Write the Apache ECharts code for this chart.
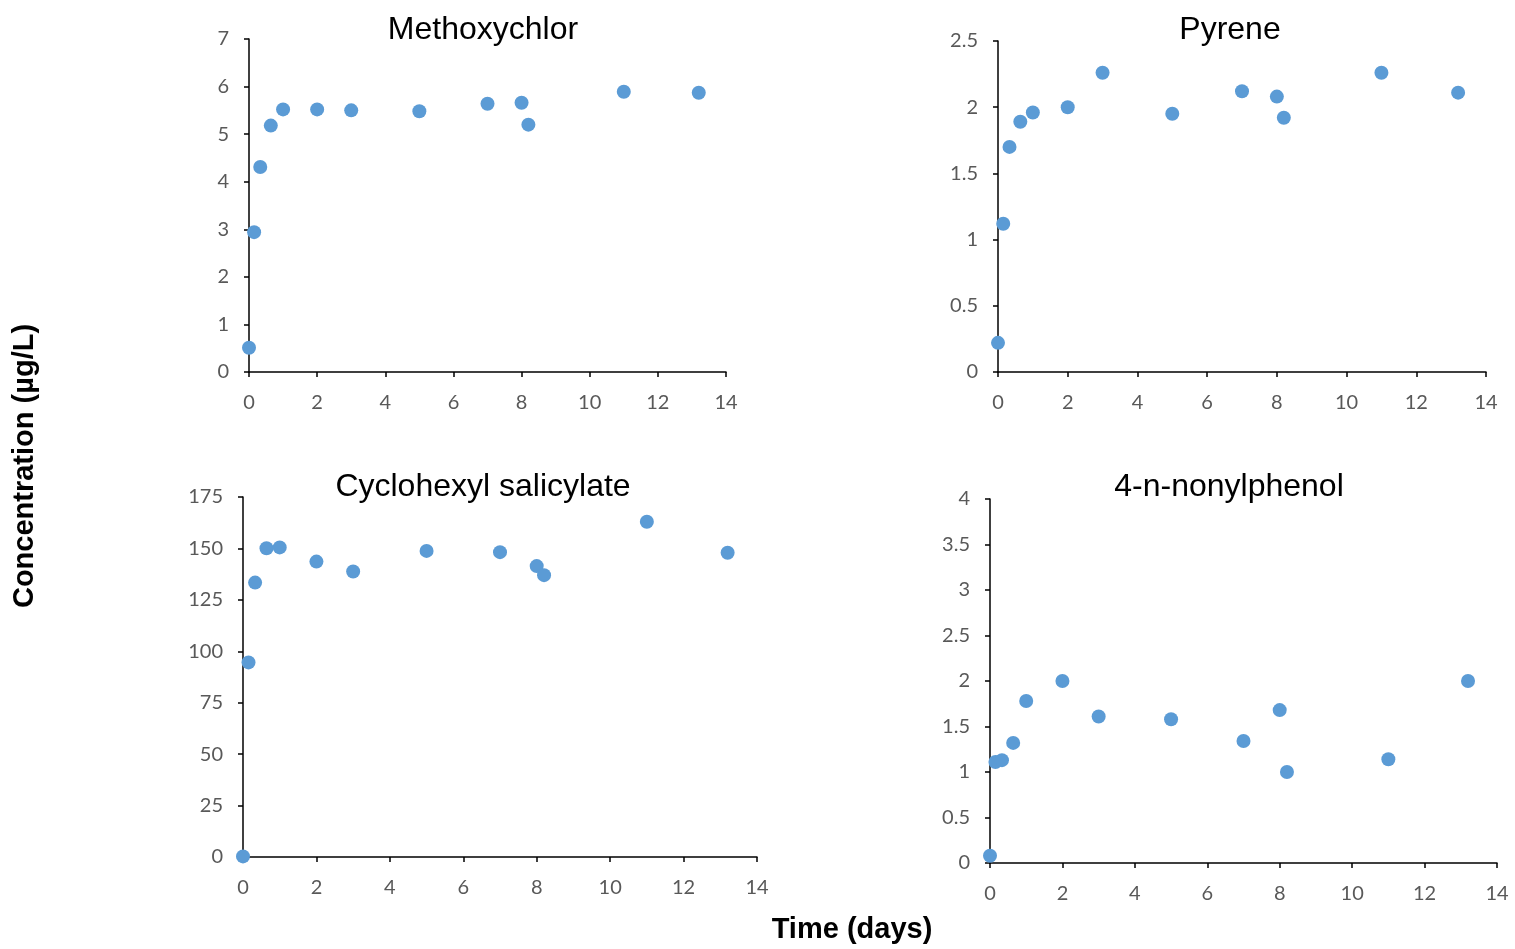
<!DOCTYPE html>
<html>
<head>
<meta charset="utf-8">
<script src="https://cdn.jsdelivr.net/npm/echarts@6/dist/echarts.min.js"></script>
<style>
html,body{margin:0;padding:0;background:#fff;}
#chart{width:1515px;height:949px;}
</style>
</head>
<body>
<div id="chart"></div>
<script>
// Sampling times (days)
const days = [0, 0.15, 0.33, 0.64, 1, 2, 3, 5, 7, 8, 8.2, 11, 13.2];
// Concentrations (µg/L)
const methoxychlor = [0.51, 2.94, 4.31, 5.18, 5.52, 5.52, 5.50, 5.48, 5.64, 5.66, 5.20, 5.89, 5.87];
const pyrene = [0.22, 1.12, 1.70, 1.89, 1.96, 2.00, 2.26, 1.95, 2.12, 2.08, 1.92, 2.26, 2.11];
const cyclohexylSalicylate = [0.3, 94.6, 133.4, 150.1, 150.5, 143.6, 138.8, 148.8, 148.2, 141.4, 137.0, 163.0, 147.9];
const nonylphenol = [0.08, 1.11, 1.13, 1.32, 1.78, 2.00, 1.61, 1.58, 1.34, 1.68, 1.00, 1.14, 2.00];

const panelTitles = ['Methoxychlor', 'Pyrene', 'Cyclohexyl salicylate', '4-n-nonylphenol'];
const yMax = [7, 2.5, 175, 4];
const yInterval = [1, 0.5, 25, 0.5];
const xMax = 14;
const xInterval = 2;
const yAxisTitle = 'Concentration (µg/L)';
const xAxisTitle = 'Time (days)';

const seriesValues = [methoxychlor, pyrene, cyclohexylSalicylate, nonylphenol];

const grids = [
  {left: 249, top: 39, width: 477, height: 333},
  {left: 998, top: 41, width: 488, height: 331},
  {left: 243, top: 497, width: 514, height: 360},
  {left: 990, top: 499, width: 507, height: 364}
];

const tickFont = {color: '#595959', fontSize: 20, fontFamily: 'Lato, "Open Sans", sans-serif'};
const axisLine = {show: true, onZero: false, lineStyle: {color: '#000', width: 1.5}};
const axisTick = {show: true, inside: false, length: 5, lineStyle: {color: '#000', width: 1.5}};

const xAxes = grids.map((g, i) => ({
  type: 'value', gridIndex: i, min: 0, max: xMax, interval: xInterval,
  axisLine, axisTick, splitLine: {show: false},
  axisLabel: Object.assign({margin: 21}, tickFont)
}));
const yAxes = grids.map((g, i) => ({
  type: 'value', gridIndex: i, min: 0, max: yMax[i], interval: yInterval[i],
  axisLine, axisTick, splitLine: {show: false},
  axisLabel: Object.assign({margin: 20}, tickFont)
}));

const series = seriesValues.map((vals, i) => ({
  type: 'scatter', xAxisIndex: i, yAxisIndex: i,
  symbol: 'circle', symbolSize: 14,
  itemStyle: {color: '#5B9BD5', opacity: 1},
  data: days.map((d, k) => [d, vals[k]])
}));

const titleCenters = [[478, 9], [1225, 9], [478, 466], [1224, 466]];
const titles = panelTitles.map((t, i) => ({
  text: t, left: titleCenters[i][0], top: titleCenters[i][1], textAlign: 'center',
  textStyle: {fontSize: 32, fontWeight: 'normal', color: '#000', fontFamily: '"Liberation Sans", Arial, sans-serif'}
}));

const chart = echarts.init(document.getElementById('chart'), null, {renderer: 'canvas'});
chart.setOption({
  animation: false,
  backgroundColor: '#fff',
  title: titles,
  grid: grids.map(g => Object.assign({containLabel: false}, g)),
  xAxis: xAxes,
  yAxis: yAxes,
  series,
  graphic: [
    {type: 'text', x: 25, y: 466, rotation: Math.PI / 2,
     style: {text: yAxisTitle, fontSize: 29, fontWeight: 'bold', fill: '#000',
             fontFamily: '"Liberation Sans", Arial, sans-serif', align: 'center', verticalAlign: 'middle'}},
    {type: 'text', x: 852, y: 930,
     style: {text: xAxisTitle, fontSize: 29, fontWeight: 'bold', fill: '#000',
             fontFamily: '"Liberation Sans", Arial, sans-serif', align: 'center', verticalAlign: 'middle'}}
  ]
});
</script>
</body>
</html>
